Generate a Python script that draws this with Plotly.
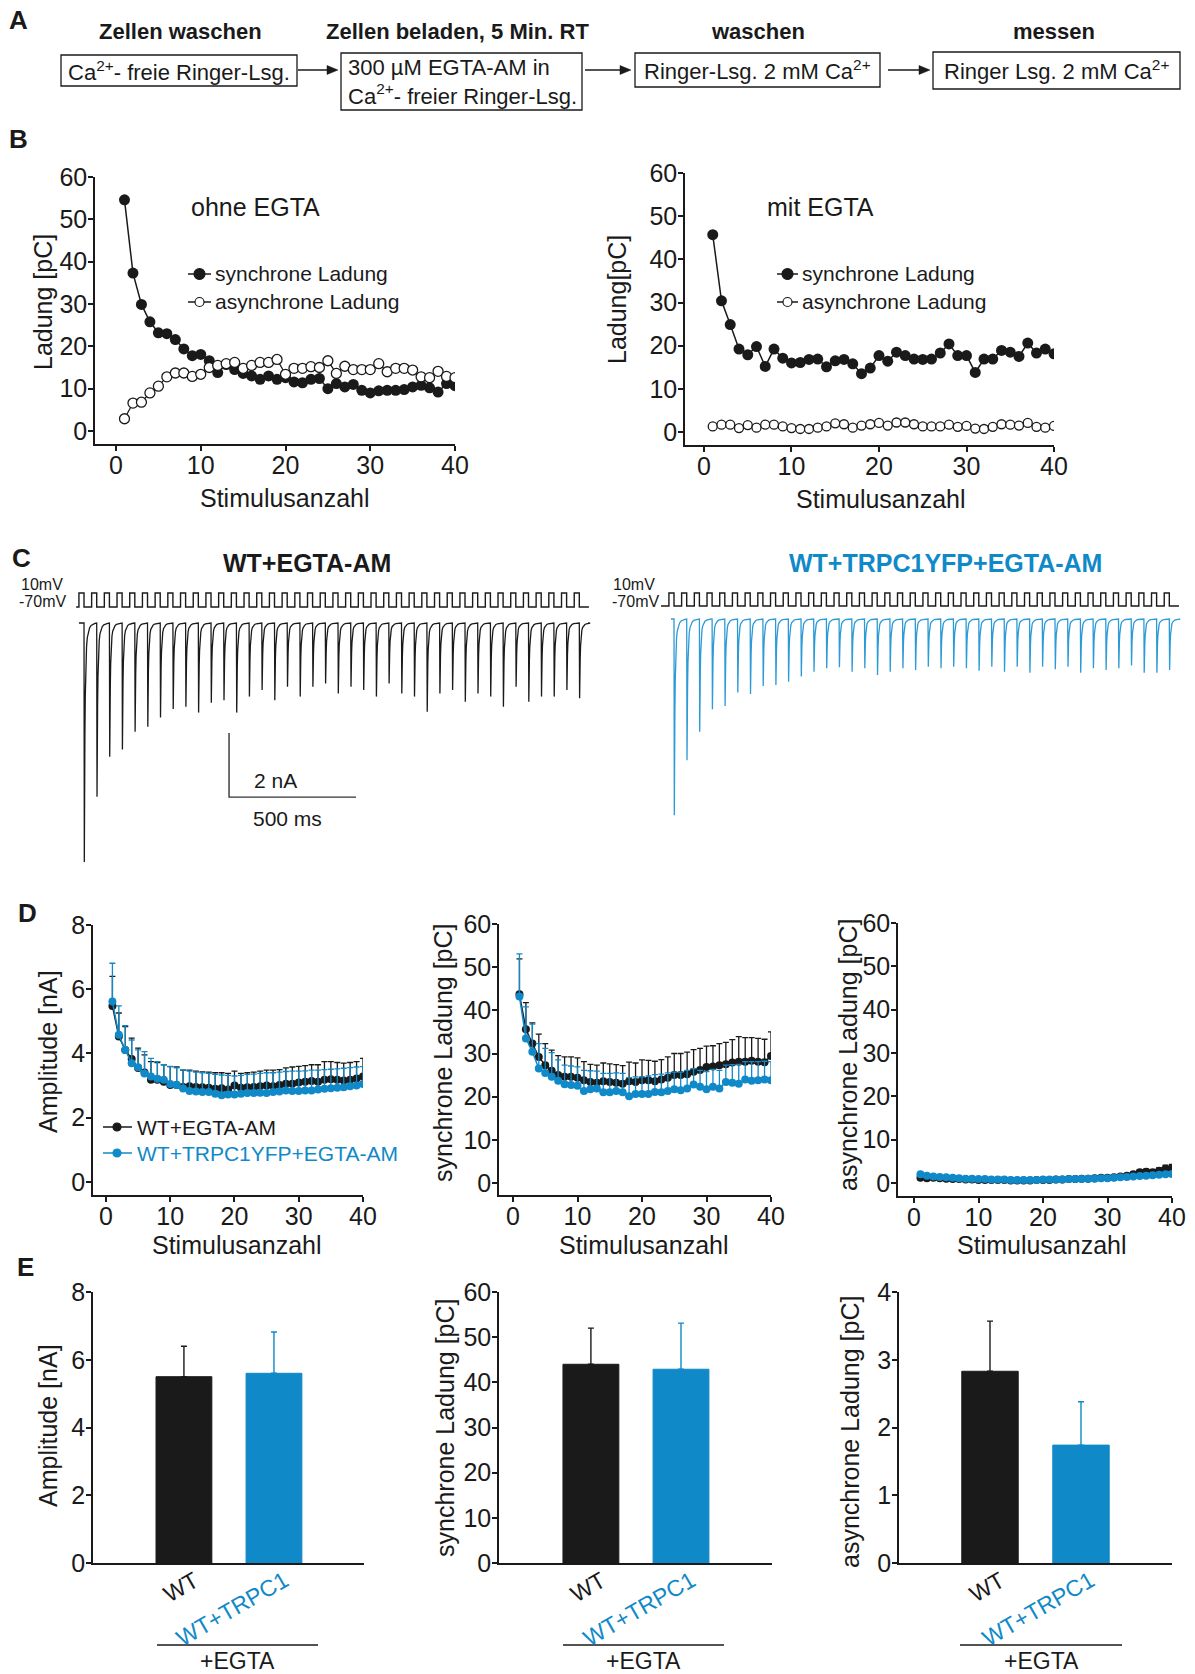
import math
import plotly.graph_objects as go

W, H = 1195, 1674
INK = '#1a1a1a'
BLUE = '#1089c8'
BLUE_TRACE = '#2b9ad6'
FONT = 'Liberation Sans, Arial, Helvetica, sans-serif'

# ---------------- data ----------------
stim = list(range(1, 41))

# Panel B (single cell, ohne / mit EGTA), pC
B_ohne_sync = [54.6, 37.3, 29.9, 25.8, 23.2, 23.0, 21.6, 19.4, 17.8, 18.1,
               16.6, 13.8, 15.7, 14.5, 13.6, 13.0, 12.2, 13.0, 12.2, 12.6,
               11.6, 11.4, 12.2, 12.4, 10.0, 11.2, 10.4, 11.0, 9.6, 9.0,
               9.5, 9.6, 9.6, 9.8, 10.4, 10.8, 10.2, 9.2, 11.2, 10.7]
B_ohne_async = [2.9, 6.6, 6.8, 9.0, 10.6, 12.8, 13.7, 13.7, 12.9, 13.4,
                15.0, 15.5, 15.9, 16.2, 14.8, 15.5, 16.2, 16.2, 16.9, 13.4,
                14.8, 14.8, 15.2, 15.0, 16.6, 13.6, 15.3, 14.5, 14.5, 14.5,
                15.9, 14.0, 14.8, 14.8, 14.4, 12.8, 12.6, 14.1, 12.9, 12.6]
B_mit_sync = [45.7, 30.4, 24.9, 19.2, 17.9, 19.8, 15.2, 19.2, 17.1, 16.0,
              16.1, 16.8, 16.9, 15.1, 16.5, 16.8, 15.8, 13.5, 14.8, 17.7,
              16.4, 18.5, 17.7, 16.9, 16.8, 16.9, 18.3, 20.4, 17.7, 17.7,
              13.8, 16.9, 16.9, 18.9, 18.5, 17.5, 20.6, 18.3, 19.2, 18.1]
B_mit_async = [1.3, 1.7, 1.7, 0.9, 1.6, 1.0, 1.7, 1.7, 1.3, 0.9,
               0.7, 0.7, 1.0, 1.3, 2.0, 1.8, 1.0, 1.5, 1.8, 2.1,
               1.5, 2.2, 2.2, 1.8, 1.3, 1.3, 1.3, 1.7, 1.2, 1.4,
               0.8, 0.7, 1.2, 1.8, 1.7, 1.5, 2.1, 1.2, 1.0, 1.4]

# Panel C (example traces): peak current of each of the 40 responses, nA
C_wt_peaks = [7.47, 5.43, 4.18, 3.95, 3.40, 3.24, 2.95, 2.69, 2.62, 2.80,
              2.49, 2.41, 2.80, 2.30, 2.09, 2.41, 1.99, 2.30, 1.99, 1.89,
              2.20, 1.99, 2.09, 2.30, 1.89, 2.20, 2.30, 2.77, 2.20, 2.09,
              2.46, 2.20, 2.30, 2.62, 1.99, 2.46, 2.30, 2.30, 2.09, 2.35]
C_trpc1_peaks = [6.13, 4.41, 3.52, 2.82, 2.72, 2.30, 2.34, 2.09, 2.06, 1.96,
                 1.80, 1.65, 1.54, 1.51, 1.65, 1.54, 1.75, 1.65, 1.54, 1.59,
                 1.49, 1.54, 1.49, 1.54, 1.62, 1.49, 1.65, 1.49, 1.68, 1.49,
                 1.57, 1.49, 1.68, 1.54, 1.59, 1.54, 1.45, 1.68, 1.68, 1.59]
C_period_ms = 50
C_pulse_ms = 20
C_v_rest = -70
C_v_step = 10
C_scale_t = [571, 571, 1071]        # 500 ms
C_scale_i = [-3.44, -5.44, -5.44]   # 2 nA

# Panel D (mean +/- SEM)
D_amp_wt = [5.48, 4.53, 4.11, 3.83, 3.55, 3.41, 3.18, 3.18, 3.12, 3.02,
            3.02, 2.96, 2.98, 2.96, 2.95, 2.93, 2.90, 2.92, 2.88, 3.00,
            2.93, 2.95, 2.96, 2.98, 3.00, 2.98, 3.02, 3.06, 3.06, 3.10,
            3.12, 3.14, 3.12, 3.18, 3.20, 3.18, 3.16, 3.18, 3.22, 3.28]
D_amp_wt_err = [0.92, 0.73, 0.73, 0.65, 0.62, 0.55, 0.57, 0.54, 0.53, 0.57,
                0.56, 0.52, 0.50, 0.49, 0.48, 0.49, 0.50, 0.48, 0.50, 0.45,
                0.45, 0.45, 0.46, 0.47, 0.48, 0.50, 0.48, 0.49, 0.52, 0.50,
                0.50, 0.51, 0.53, 0.57, 0.55, 0.54, 0.54, 0.54, 0.53, 0.57]
D_amp_tr = [5.62, 4.58, 4.11, 3.70, 3.57, 3.38, 3.28, 3.21, 3.18, 3.05,
            3.02, 2.91, 2.83, 2.82, 2.80, 2.80, 2.75, 2.70, 2.72, 2.72,
            2.75, 2.77, 2.77, 2.78, 2.77, 2.80, 2.82, 2.85, 2.83, 2.83,
            2.85, 2.85, 2.88, 2.90, 2.92, 2.93, 2.95, 2.98, 3.00, 3.05]
D_amp_tr_err = [1.19, 0.90, 0.76, 0.72, 0.54, 0.68, 0.57, 0.54, 0.47, 0.55,
                0.53, 0.58, 0.62, 0.60, 0.60, 0.58, 0.60, 0.63, 0.60, 0.58,
                0.57, 0.58, 0.59, 0.60, 0.63, 0.60, 0.60, 0.59, 0.62, 0.62,
                0.61, 0.63, 0.60, 0.60, 0.59, 0.59, 0.59, 0.58, 0.58, 0.54]
D_sync_wt = [43.7, 35.6, 32.3, 29.2, 27.3, 26.0, 25.0, 24.6, 24.6, 24.4,
             23.8, 23.4, 23.2, 23.6, 23.4, 23.2, 23.0, 23.6, 23.4, 23.8,
             23.8, 23.6, 24.0, 24.4, 25.0, 25.0, 25.2, 25.8, 26.2, 26.9,
             27.0, 27.3, 27.5, 27.9, 28.1, 28.1, 28.3, 28.1, 28.0, 29.4]
D_sync_wt_err = [8.2, 6.2, 4.8, 5.3, 5.0, 4.8, 4.5, 4.6, 4.6, 4.6,
                 4.3, 4.1, 4.1, 4.2, 4.2, 4.2, 4.2, 4.4, 4.4, 4.7,
                 4.6, 4.6, 4.6, 4.8, 5.0, 5.0, 5.1, 5.1, 5.0, 4.8,
                 4.8, 5.0, 5.1, 5.3, 5.8, 5.6, 5.4, 5.4, 5.3, 5.6]
D_sync_tr = [43.2, 33.5, 30.4, 26.5, 25.5, 24.6, 23.7, 22.9, 22.7, 22.5,
             21.3, 21.7, 21.9, 21.0, 21.0, 21.3, 21.0, 20.1, 20.6, 20.6,
             20.6, 21.1, 21.0, 21.3, 21.7, 21.5, 21.9, 22.8, 22.3, 21.7,
             22.3, 21.9, 23.4, 23.2, 23.0, 24.0, 23.7, 23.8, 24.0, 23.8]
D_sync_tr_err = [9.9, 7.3, 6.4, 5.8, 5.7, 5.6, 4.8, 4.4, 4.4, 4.4,
                 4.8, 4.3, 4.0, 4.4, 4.4, 4.2, 4.4, 4.3, 4.0, 4.0,
                 4.2, 4.0, 4.2, 4.2, 4.0, 4.2, 4.2, 3.7, 3.8, 4.1,
                 4.0, 4.2, 3.9, 4.2, 4.5, 4.1, 4.4, 4.3, 4.2, 4.3]
D_async_wt = [1.2, 1.1, 1.2, 1.1, 1.0, 0.9, 0.9, 0.8, 0.8, 0.7,
              0.7, 0.7, 0.7, 0.7, 0.6, 0.6, 0.6, 0.6, 0.7, 0.7,
              0.7, 0.8, 0.8, 0.9, 0.9, 1.0, 1.0, 1.1, 1.2, 1.2,
              1.3, 1.5, 1.7, 2.0, 2.5, 2.6, 2.5, 2.8, 3.3, 3.4]
D_async_wt_err = [0.3, 0.3, 0.3, 0.3, 0.2, 0.2, 0.2, 0.2, 0.2, 0.2,
                  0.2, 0.2, 0.2, 0.2, 0.2, 0.2, 0.2, 0.2, 0.2, 0.2,
                  0.2, 0.2, 0.2, 0.2, 0.2, 0.2, 0.3, 0.3, 0.3, 0.3,
                  0.3, 0.4, 0.4, 0.5, 0.6, 0.6, 0.6, 0.7, 0.8, 0.9]
D_async_tr = [2.0, 1.7, 1.5, 1.4, 1.3, 1.2, 1.1, 1.0, 1.0, 0.9,
              0.9, 0.8, 0.8, 0.8, 0.7, 0.7, 0.7, 0.7, 0.7, 0.8,
              0.8, 0.8, 0.8, 0.9, 0.9, 0.9, 1.0, 1.0, 1.1, 1.1,
              1.2, 1.3, 1.4, 1.5, 1.6, 1.7, 1.8, 1.9, 2.0, 2.1]
D_async_tr_err = [0.4, 0.3, 0.3, 0.2, 0.2, 0.2, 0.2, 0.2, 0.2, 0.2,
                  0.2, 0.2, 0.2, 0.2, 0.2, 0.2, 0.2, 0.2, 0.2, 0.2,
                  0.2, 0.2, 0.2, 0.2, 0.2, 0.2, 0.2, 0.2, 0.2, 0.2,
                  0.3, 0.3, 0.3, 0.3, 0.3, 0.4, 0.4, 0.4, 0.4, 0.5]

# Panel E (first response, mean +/- SEM)
E_groups = ['WT', 'WT+TRPC1']
E_amp = [5.50, 5.60]
E_amp_err = [0.90, 1.22]
E_sync = [44.0, 42.9]
E_sync_err = [8.0, 10.2]
E_async = [2.83, 1.74]
E_async_err = [0.74, 0.64]

# ---------------- helpers ----------------
def fx(p):
    return p / W

def fy(p):
    return 1 - p / H

def xdom(a, b):
    return [a / W, b / W]

def ydom(top, bottom):
    return [1 - bottom / H, 1 - top / H]

layout = dict(template='none', width=W, height=H,
              margin=dict(l=0, r=0, t=0, b=0, pad=0, autoexpand=False),
              paper_bgcolor='white', plot_bgcolor='white', showlegend=False,
              barmode='overlay', font=dict(family=FONT, color=INK))
annotations = []
shapes = []
fig = go.Figure()


def axname(kind, i):
    return f'{kind}axis' if i == 1 else f'{kind}axis{i}'


def ref(kind, i):
    return kind if i == 1 else f'{kind}{i}'


def std(domain, rng, tickvals=None, kind='x'):
    d = dict(domain=domain, range=rng, showline=True, linewidth=1.5, linecolor=INK,
             ticks='outside', ticklen=5, tickwidth=1.5, tickcolor=INK,
             showgrid=False, zeroline=False, fixedrange=True, automargin=False,
             ticklabelstandoff=(-7 if kind == 'x' else -4),
             tickfont=dict(size=25, family=FONT, color=INK))
    if tickvals is not None:
        d['tickvals'] = tickvals
    return d


def hidden(domain, rng):
    return dict(domain=domain, range=rng, visible=False, fixedrange=True, automargin=False)


def set_axes(i, xa, ya):
    xa['anchor'] = ref('y', i)
    ya['anchor'] = ref('x', i)
    layout[axname('x', i)] = xa
    layout[axname('y', i)] = ya


def text(s, x, y, size=25, color=INK, bold=False, angle=0, xanchor='center',
         yanchor='middle', align='center'):
    if bold:
        s = f'<b>{s}</b>'
    annotations.append(dict(text=s, x=fx(x), y=fy(y), xref='paper', yref='paper',
                            showarrow=False, textangle=angle, xanchor=xanchor,
                            yanchor=yanchor, align=align,
                            font=dict(size=size, color=color, family=FONT)))


def rect(x0, x1, top, bottom):
    shapes.append(dict(type='rect', xref='paper', yref='paper', x0=fx(x0), x1=fx(x1),
                       y0=fy(bottom), y1=fy(top), line=dict(color=INK, width=1.3)))


def hline(x0, x1, y, color=INK, width=1.5):
    shapes.append(dict(type='line', xref='paper', yref='paper', x0=fx(x0), x1=fx(x1),
                       y0=fy(y), y1=fy(y), line=dict(color=color, width=width)))


def dot(cx, cy, r, fill, edge):
    shapes.append(dict(type='circle', xref='paper', yref='paper', x0=fx(cx - r), x1=fx(cx + r),
                       y0=fy(cy + r), y1=fy(cy - r), fillcolor=fill,
                       line=dict(color=edge, width=1.2)))


def arrow(x0, x1, y):
    # shaft + filled triangular head, drawn as shapes
    hline(x0, x1 - 8, y, INK, 1.5)
    path = (f'M {fx(x1)},{fy(y)} L {fx(x1 - 11)},{fy(y - 4.5)} '
            f'L {fx(x1 - 11)},{fy(y + 4.5)} Z')
    shapes.append(dict(type='path', xref='paper', yref='paper', path=path,
                       fillcolor=INK, line=dict(color=INK, width=0.5)))


# ---------------- Panel A ----------------
text('A', 18, 20, size=26, bold=True)
text('Zellen waschen', 180, 32, size=22, bold=True)
text('Zellen beladen, 5 Min. RT', 457, 32, size=22, bold=True)
text('waschen', 758, 32, size=22, bold=True)
text('messen', 1054, 32, size=22, bold=True)
rect(61, 297, 55, 86)
rect(341, 582, 53, 110)
rect(635, 880, 53, 87)
rect(933, 1180, 52, 89)
text('Ca<sup>2+</sup>- freie Ringer-Lsg.', 179, 71, size=22)
text('300 µM EGTA-AM in<br>Ca<sup>2+</sup>- freier Ringer-Lsg.', 346, 82, size=22,
     xanchor='left', align='left')
text('Ringer-Lsg. 2 mM Ca<sup>2+</sup>', 757, 70, size=22)
text('Ringer Lsg. 2 mM Ca<sup>2+</sup>', 1056, 70, size=22)
arrow(298, 338, 70)
arrow(585, 631, 70)
arrow(888, 930, 70)

# ---------------- Panel B ----------------
text('B', 18, 139, size=26, bold=True)
set_axes(1, std(xdom(95, 455), [-2.48, 40], [0, 10, 20, 30, 40]),
         std(ydom(177, 444), [-3.07, 60], [0, 10, 20, 30, 40, 50, 60], 'y'))
set_axes(2, std(xdom(685, 1054), [-2.17, 40], [0, 10, 20, 30, 40]),
         std(ydom(173, 445), [-3.01, 60], [0, 10, 20, 30, 40, 50, 60], 'y'))

for i, sync, asyn, asz in [(1, B_ohne_sync, B_ohne_async, 10), (2, B_mit_sync, B_mit_async, 9)]:
    fig.add_trace(go.Scatter(x=stim, y=sync, mode='lines+markers', xaxis=ref('x', i), yaxis=ref('y', i),
                             line=dict(color=INK, width=1.5), marker=dict(size=11, color=INK)))
    fig.add_trace(go.Scatter(x=stim, y=asyn, mode='lines+markers', xaxis=ref('x', i), yaxis=ref('y', i),
                             line=dict(color=INK, width=1.3),
                             marker=dict(size=asz, color='white', line=dict(color=INK, width=1.3))))

text('ohne EGTA', 255, 207)
text('mit EGTA', 820, 207)
text('Ladung [pC]', 43, 302, angle=-90)
text('Ladung[pC]', 617, 300, angle=-90)
text('Stimulusanzahl', 285, 498)
text('Stimulusanzahl', 881, 499)
for lx0, lx1, tx in [(188, 211, 213), (777, 798, 800)]:
    hline(lx0, lx1, 274)
    dot((lx0 + lx1) / 2, 274, 5.5, INK, INK)
    text('synchrone Ladung', tx, 274, size=21, xanchor='left')
    hline(lx0, lx1, 302)
    dot((lx0 + lx1) / 2, 302, 4.5, 'white', INK)
    text('asynchrone Ladung', tx, 302, size=21, xanchor='left')

# ---------------- Panel C ----------------
def kernel(dt):
    if dt <= 1.2:
        return dt / 1.2
    return 0.8 * math.exp(-(dt - 1.2) / 2.5) + 0.2 * math.exp(-(dt - 1.2) / 9.0)


def build_current(peaks, t0, t1):
    offs = [0, 0.6, 1.2, 1.8, 2.5, 3.5, 5, 6.5, 8, 10, 13, 17, 22, 28, 35, 43]
    t, cur = [t0], [0.0]
    for k, a in enumerate(peaks):
        tk = k * C_period_ms
        for dt in offs:
            t.append(tk + dt)
            cur.append(-a * kernel(dt))
    t.append(t1)
    cur.append(0.0)
    return t, cur


def build_voltage(n, t0, t1):
    t, v = [t0], [C_v_rest]
    for k in range(n):
        tk = k * C_period_ms
        t += [tk - C_pulse_ms, tk - C_pulse_ms, tk, tk]
        v += [C_v_rest, C_v_step, C_v_step, C_v_rest]
    t.append(t1)
    v.append(C_v_rest)
    return t, v


text('C', 21, 558, size=26, bold=True)
text('WT+EGTA-AM', 307, 563, size=25, bold=True)
text('WT+TRPC1YFP+EGTA-AM', 945, 563, size=25, bold=True, color=BLUE)

# left example (black)
set_axes(3, hidden(xdom(74, 592), [-39.4, 2000]), hidden(ydom(612, 872), [-7.78, 0.344]))
set_axes(4, hidden(xdom(74, 592), [-39.4, 2000]), hidden(ydom(586, 611), [-92.9, 50]))
t, cur = build_current(C_wt_peaks, -20, 1984)
fig.add_trace(go.Scatter(x=t, y=cur, mode='lines', xaxis='x3', yaxis='y3',
                         line=dict(color=INK, width=1.3)))
t, v = build_voltage(len(C_wt_peaks), -31, 1988)
fig.add_trace(go.Scatter(x=t, y=v, mode='lines', xaxis='x4', yaxis='y4',
                         line=dict(color=INK, width=1.4)))
fig.add_trace(go.Scatter(x=C_scale_t, y=C_scale_i, mode='lines', xaxis='x3', yaxis='y3',
                         line=dict(color='#333333', width=1.4)))
annotations.append(dict(text='2 nA', x=754, y=-4.93, xref='x3', yref='y3', showarrow=False,
                        font=dict(size=21, family=FONT, color=INK)))
annotations.append(dict(text='500 ms', x=803, y=-6.12, xref='x3', yref='y3', showarrow=False,
                        font=dict(size=21, family=FONT, color=INK)))

# right example (blue)
set_axes(5, hidden(xdom(658, 1182), [-63, 2000]), hidden(ydom(612, 872), [-7.906, 0.219]))
set_axes(6, hidden(xdom(658, 1182), [-63, 2000]), hidden(ydom(586, 611), [-100.8, 53.1]))
t, cur = build_current(C_trpc1_peaks, -12, 1988)
fig.add_trace(go.Scatter(x=t, y=cur, mode='lines', xaxis='x5', yaxis='y5',
                         line=dict(color=BLUE_TRACE, width=1.3)))
t, v = build_voltage(len(C_trpc1_peaks), -51, 1988)
fig.add_trace(go.Scatter(x=t, y=v, mode='lines', xaxis='x6', yaxis='y6',
                         line=dict(color=INK, width=1.4)))

text('10mV', 65, 584, size=16, xanchor='right')
text('-70mV', 68, 601, size=16, xanchor='right')
text('10mV', 657, 584, size=16, xanchor='right')
text('-70mV', 661, 601, size=16, xanchor='right')

# ---------------- Panel D ----------------
text('D', 27, 913, size=26, bold=True)
set_axes(7, std(xdom(93, 363), [-2.02, 40], [0, 10, 20, 30, 40]),
         std(ydom(925, 1195), [-0.405, 8], [0, 2, 4, 6, 8], 'y'))
set_axes(8, std(xdom(499, 771), [-2.17, 40], [0, 10, 20, 30, 40]),
         std(ydom(924, 1195), [-2.78, 60], [0, 10, 20, 30, 40, 50, 60], 'y'))
set_axes(9, std(xdom(898, 1172), [-2.48, 40], [0, 10, 20, 30, 40]),
         std(ydom(923, 1196), [-3.0, 60], [0, 10, 20, 30, 40, 50, 60], 'y'))


def mean_sem(i, y, err, color):
    fig.add_trace(go.Scatter(
        x=stim, y=y, mode='lines+markers', xaxis=ref('x', i), yaxis=ref('y', i),
        line=dict(color=color, width=1.5), marker=dict(size=8, color=color),
        error_y=dict(type='data', symmetric=False, array=err, arrayminus=[0] * len(err),
                     color=color, thickness=1.3, width=3)))


mean_sem(7, D_amp_wt, D_amp_wt_err, INK)
mean_sem(7, D_amp_tr, D_amp_tr_err, BLUE)
mean_sem(8, D_sync_wt, D_sync_wt_err, INK)
mean_sem(8, D_sync_tr, D_sync_tr_err, BLUE)
mean_sem(9, D_async_wt, D_async_wt_err, INK)
mean_sem(9, D_async_tr, D_async_tr_err, BLUE)

text('Amplitude [nA]', 48, 1052, angle=-90)
text('synchrone Ladung [pC]', 443, 1053, angle=-90)
text('asynchrone Ladung [pC]', 848, 1055, angle=-90)
text('Stimulusanzahl', 237, 1245)
text('Stimulusanzahl', 644, 1245)
text('Stimulusanzahl', 1042, 1245)
hline(103, 132, 1127, INK)
dot(117, 1127, 4, INK, INK)
text('WT+EGTA-AM', 135, 1127, size=21, xanchor='left')
hline(103, 132, 1153, BLUE)
dot(117, 1153, 4, BLUE, BLUE)
text('WT+TRPC1YFP+EGTA-AM', 135, 1153, size=21, xanchor='left', color=BLUE)

# ---------------- Panel E ----------------
text('E', 26, 1267, size=26, bold=True)


def bar_axes(i, x0, x1, rng, ymax, ticks):
    xa = std(xdom(x0, x1), rng)
    xa.update(ticks='', showticklabels=False)
    set_axes(i, xa, std(ydom(1292, 1563), [0, ymax], ticks, 'y'))


bar_axes(10, 93, 364, [-1.01, 2.0], 8, [0, 2, 4, 6, 8])
bar_axes(11, 499, 772, [-1.02, 2.01], 60, [0, 10, 20, 30, 40, 50, 60])
bar_axes(12, 899, 1172, [-1.0, 2.0], 4, [0, 1, 2, 3, 4])

for i, vals, errs in [(10, E_amp, E_amp_err), (11, E_sync, E_sync_err), (12, E_async, E_async_err)]:
    for k, col in enumerate([INK, BLUE]):
        fig.add_trace(go.Bar(
            x=[k], y=[vals[k]], width=0.62, xaxis=ref('x', i), yaxis=ref('y', i),
            marker=dict(color=col, line=dict(color=col, width=1)),
            error_y=dict(type='data', symmetric=False, array=[errs[k]], arrayminus=[0],
                         color=col, thickness=1.4, width=3)))

for cx, x0, x1 in [(184, 157, 318), (591, 563, 724), (990, 960, 1122)]:
    text(E_groups[0], cx - 3, 1587, size=23, angle=-30)
    text(E_groups[1], cx + 48, 1609, size=23, angle=-30, color=BLUE)
    hline(x0, x1, 1645, INK, 1.4)
    text('+EGTA', (x0 + x1) / 2, 1661, size=23)

text('Amplitude [nA]', 48, 1426, angle=-90)
text('synchrone Ladung [pC]', 445, 1427, angle=-90)
text('asynchrone Ladung [pC]', 850, 1432, angle=-90)

layout['annotations'] = annotations
layout['shapes'] = shapes
fig.update_layout(**layout)
fig.write_html('out.html')
